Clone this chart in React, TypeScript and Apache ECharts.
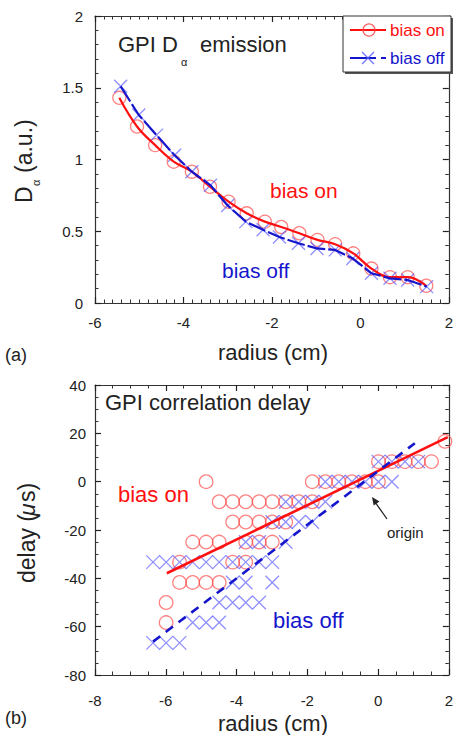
import React, { useEffect, useRef } from "react";
import * as echarts from "echarts";

// ---- Panel (a): GPI D-alpha emission ----
const aRadiusOn = [-5.45, -5.05, -4.64, -4.22, -3.81, -3.4, -2.98, -2.57, -2.16, -1.79, -1.38, -0.97, -0.57, -0.16, 0.25, 0.67, 1.07, 1.49];
const aDalphaOn = [1.43, 1.23, 1.1, 0.985, 0.915, 0.81, 0.706, 0.625, 0.567, 0.53, 0.486, 0.44, 0.41, 0.346, 0.24, 0.18, 0.18, 0.12];
const aRadiusOff = [-5.42, -5.01, -4.61, -4.2, -3.81, -3.39, -3.0, -2.59, -2.2, -1.83, -1.4, -0.98, -0.57, -0.17, 0.25, 0.67, 1.07, 1.5];
const aDalphaOff = [1.51, 1.31, 1.17, 1.03, 0.915, 0.82, 0.68, 0.567, 0.51, 0.46, 0.416, 0.38, 0.37, 0.31, 0.207, 0.172, 0.16, 0.114];

// ---- Panel (b): GPI correlation delay ----
const bRadiusOn = [
  1.89,
  0.01, 0.39, 0.76, 1.14, 1.51,
  -4.86, -1.86, -1.49, -1.11, -0.74, -0.36, 0.01,
  -4.49, -4.11, -3.74, -3.36, -2.99, -2.61, -2.24, -1.86,
  -4.11, -3.74, -3.36, -2.99, -2.61,
  -5.24, -4.86, -4.49, -3.74, -3.36, -2.99,
  -5.61, -4.11, -3.74,
  -5.61, -5.24, -4.86, -4.49,
  -5.99,
  -5.99,
];
const bDelayOn = [
  16.7,
  8.3, 8.3, 8.3, 8.3, 8.3,
  0, 0, 0, 0, 0, 0, 0,
  -8.3, -8.3, -8.3, -8.3, -8.3, -8.3, -8.3, -8.3,
  -16.7, -16.7, -16.7, -16.7, -16.7,
  -25, -25, -25, -25, -25, -25,
  -33.3, -33.3, -33.3,
  -41.7, -41.7, -41.7, -41.7,
  -50,
  -58.3,
];
const bRadiusOff = [
  0.01, 0.39, 0.76, 1.14,
  -1.49, -1.11, -0.74, -0.36, 0.01, 0.39,
  -2.61, -2.24, -1.86, -1.49,
  -2.99, -2.61, -2.24, -1.86,
  -3.74, -3.36, -2.61,
  -6.36, -5.99, -5.61, -5.24, -4.86, -4.49, -4.11, -3.74, -3.36, -2.99,
  -4.11, -3.74, -2.99,
  -4.49, -4.11, -3.74, -3.36,
  -5.24, -4.86, -4.49,
  -6.36, -5.99, -5.61,
];
const bDelayOff = [
  8.3, 8.3, 8.3, 8.3,
  0, 0, 0, 0, 0, 0,
  -8.3, -8.3, -8.3, -8.3,
  -16.7, -16.7, -16.7, -16.7,
  -25, -25, -25,
  -33.3, -33.3, -33.3, -33.3, -33.3, -33.3, -33.3, -33.3, -33.3, -33.3,
  -41.7, -41.7, -41.7,
  -50, -50, -50, -50,
  -58.3, -58.3, -58.3,
  -66.7, -66.7, -66.7,
];
// linear fits
const fitOnRadius = [-5.97, 1.97];
const fitOnDelay = [-37.9, 18.4];
const fitOffRadius = [-6.36, 1.04];
const fitOffDelay = [-66.2, 15.9];

// tick settings
const aXTicks = { min: -6, max: 2, interval: 2 };
const aYTicks = { min: 0, max: 2, interval: 0.5 };
const bXTicks = { min: -8, max: 2, interval: 2 };
const bYTicks = { min: -80, max: 40, interval: 20 };

const FONT = "'Liberation Sans', Arial, Helvetica, sans-serif";
const RED = "#ff1010";
const BLUE = "#1515cc";
const CIRCLE = "rgba(255,70,70,0.85)";
const CROSS = "rgba(90,90,255,0.85)";
const XSYM = "path://M0,0L10,10M10,0L0,10";

const zip = (a: number[], b: number[]) => a.map((v, i) => [v, b[i]]);

function axis(pos: string, grid: number, t: any, labels: boolean, minorSplit: number, margin: number) {
  return {
    type: "value",
    gridIndex: grid,
    position: pos,
    min: t.min,
    max: t.max,
    interval: t.interval,
    axisLine: { show: true, onZero: false, lineStyle: { color: "#333", width: 1.2 } },
    axisTick: { show: true, inside: true, length: 6, lineStyle: { color: "#222", width: 1.2 } },
    minorTick: { show: true, splitNumber: minorSplit, length: 3.5, lineStyle: { color: "#333", width: 1 } },
    splitLine: { show: false },
    axisLabel: { show: labels, margin, fontSize: 15, color: "#222", fontFamily: FONT },
  };
}

function txt(x: number, y: number, text: string, size: number, fill: string, align = "left", extra: any = {}) {
  return {
    type: "text",
    x,
    y,
    z: 100,
    silent: true,
    ...extra,
    style: {
      text,
      fill,
      fontSize: size,
      fontFamily: FONT,
      align,
      textAlign: align,
      verticalAlign: "middle",
      textVerticalAlign: "middle",
      ...(extra.style || {}),
    },
  };
}

export default function App() {
  const ref = useRef<HTMLDivElement>(null);
  useEffect(() => {
    if (!ref.current) return;
    const chart = echarts.init(ref.current, null, { renderer: "svg" });
    const option: any = {
      animation: false,
      backgroundColor: "#fff",
      grid: [
        { left: 95, top: 16, width: 356, height: 287 },
        { left: 95, top: 385, width: 356, height: 290 },
      ],
      xAxis: [
        axis("bottom", 0, aXTicks, true, 10, 12),
        axis("top", 0, aXTicks, false, 10, 8),
        axis("bottom", 1, bXTicks, true, 4, 18),
        axis("top", 1, bXTicks, false, 4, 8),
      ],
      yAxis: [
        axis("left", 0, aYTicks, true, 5, 12),
        axis("right", 0, aYTicks, false, 5, 8),
        axis("left", 1, bYTicks, true, 4, 9),
        axis("right", 1, bYTicks, false, 4, 8),
      ],
      series: [
        {
          type: "scatter", xAxisIndex: 0, yAxisIndex: 0,
          data: zip(aRadiusOn, aDalphaOn), symbol: "circle", symbolSize: 13,
          itemStyle: { color: "rgba(0,0,0,0)", borderColor: CIRCLE, borderWidth: 1.3 },
        },
        {
          type: "scatter", xAxisIndex: 0, yAxisIndex: 0,
          data: zip(aRadiusOff, aDalphaOff), symbol: XSYM, symbolSize: 13,
          itemStyle: { color: "rgba(0,0,0,0)", borderColor: CROSS, borderWidth: 1.3 },
        },
        {
          type: "line", xAxisIndex: 0, yAxisIndex: 0, smooth: 0.4,
          data: zip(aRadiusOn, aDalphaOn), showSymbol: false,
          lineStyle: { color: RED, width: 2.2 },
        },
        {
          type: "line", xAxisIndex: 0, yAxisIndex: 0,
          data: zip(aRadiusOff, aDalphaOff), showSymbol: false,
          lineStyle: { color: BLUE, width: 2.2, type: [18, 3] },
        },
        {
          type: "scatter", xAxisIndex: 2, yAxisIndex: 2,
          data: zip(bRadiusOn, bDelayOn), symbol: "circle", symbolSize: 13.5,
          itemStyle: { color: "rgba(0,0,0,0)", borderColor: CIRCLE, borderWidth: 1.3 },
        },
        {
          type: "scatter", xAxisIndex: 2, yAxisIndex: 2,
          data: zip(bRadiusOff, bDelayOff), symbol: XSYM, symbolSize: 13.5,
          itemStyle: { color: "rgba(0,0,0,0)", borderColor: CROSS, borderWidth: 1.3 },
        },
        {
          type: "line", xAxisIndex: 2, yAxisIndex: 2,
          data: zip(fitOnRadius, fitOnDelay), showSymbol: false,
          lineStyle: { color: RED, width: 2.6 },
        },
        {
          type: "line", xAxisIndex: 2, yAxisIndex: 2,
          data: zip(fitOffRadius, fitOffDelay), showSymbol: false,
          lineStyle: { color: BLUE, width: 2.6, type: [9, 7] },
        },
      ],
      graphic: [
        // panel (a) annotations
        txt(118, 44, "GPI D", 22, "#222"),
        txt(181, 62, "α", 11, "#222"),
        txt(200, 44, "emission", 22, "#222"),
        txt(270, 190, "bias on", 21, RED),
        txt(222, 270, "bias off", 21, BLUE),
        // legend box
        { type: "rect", z: 100, shape: { x: 345, y: 18, width: 108, height: 56 }, style: { fill: "#555" }, silent: true },
        { type: "rect", z: 100, shape: { x: 343, y: 16, width: 108, height: 56 }, style: { fill: "#fff", stroke: "#333", lineWidth: 1 }, silent: true },
        { type: "line", z: 100, shape: { x1: 350, y1: 30, x2: 386, y2: 30 }, style: { stroke: RED, lineWidth: 2 }, silent: true },
        { type: "circle", z: 100, shape: { cx: 369, cy: 30, r: 6 }, style: { fill: "none", stroke: CIRCLE, lineWidth: 1.3 }, silent: true },
        txt(390, 30, "bias on", 17, RED),
        { type: "line", z: 100, shape: { x1: 350, y1: 58, x2: 376, y2: 58 }, style: { stroke: BLUE, lineWidth: 2 }, silent: true },
        { type: "line", z: 100, shape: { x1: 381, y1: 58, x2: 386, y2: 58 }, style: { stroke: BLUE, lineWidth: 2 }, silent: true },
        { type: "line", z: 100, shape: { x1: 362, y1: 52, x2: 374, y2: 64 }, style: { stroke: CROSS, lineWidth: 1.3 }, silent: true },
        { type: "line", z: 100, shape: { x1: 374, y1: 52, x2: 362, y2: 64 }, style: { stroke: CROSS, lineWidth: 1.3 }, silent: true },
        txt(390, 58, "bias off", 17, BLUE),
        // axis titles (a)
        txt(273, 352, "radius (cm)", 22, "#222", "center"),
        {
          type: "group", x: 24, y: 203, rotation: Math.PI / 2, silent: true,
          children: [
            txt(0, 0, "D", 23, "#222"),
            txt(17, 12, "α", 11, "#222"),
            txt(30, 0, "(a.u.)", 23, "#222"),
          ],
        },
        txt(5, 355, "(a)", 18, "#222"),
        // panel (b) annotations
        txt(105, 402, "GPI correlation delay", 22, "#222"),
        txt(118, 494, "bias on", 22, RED),
        txt(273, 620, "bias off", 22, BLUE),
        txt(387, 532, "origin", 15, "#222"),
        { type: "line", z: 100, shape: { x1: 387, y1: 519, x2: 375, y2: 502 }, style: { stroke: "#222", lineWidth: 1.3 }, silent: true },
        { type: "polygon", z: 100, shape: { points: [[372, 497], [379.5, 501.6], [373.7, 505.6]] }, style: { fill: "#222" }, silent: true },
        txt(273, 723, "radius (cm)", 22, "#222", "center"),
        {
          type: "group", x: 27, y: 583, rotation: Math.PI / 2, silent: true,
          children: [
            txt(0, 0, "delay (", 23, "#222"),
            txt(67, 0, "μ", 23, "#222", "left", { style: { fontStyle: "italic" } }),
            txt(81, 0, "s)", 23, "#222"),
          ],
        },
        txt(5, 718, "(b)", 18, "#222"),
      ],
    };
    chart.setOption(option);
    return () => chart.dispose();
  }, []);
  return <div ref={ref} style={{ position: "absolute", left: 0, top: 0, width: 456, height: 735 }} />;
}
